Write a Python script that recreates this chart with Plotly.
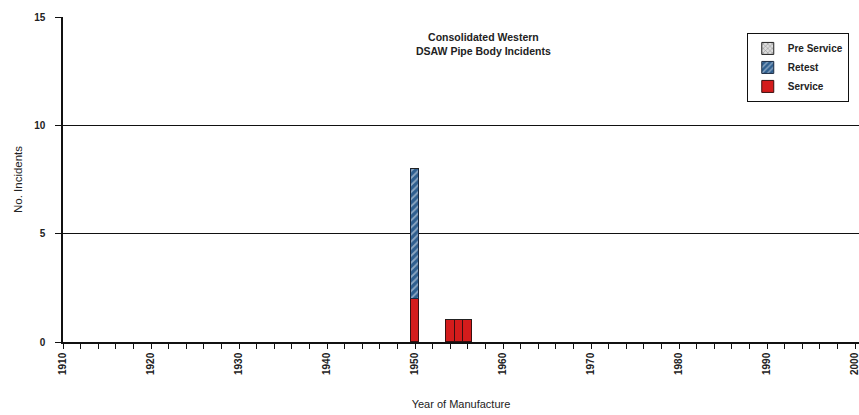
import plotly.graph_objects as go

years = [1950, 1954, 1955, 1956]
service = [2, 1, 1, 1]
retest = [6, 0, 0, 0]
pre_service = [0, 0, 0, 0]

x_ticks = list(range(1910, 2001, 10))
y_ticks = [0, 5, 10, 15]

FONT = "Liberation Sans"
TXT = "#222222"

fig = go.Figure()
fig.add_trace(go.Bar(
    x=years, y=service, name="Service", width=1,
    marker=dict(color="#d41c1c", line=dict(color="#3a1010", width=1)),
))
fig.add_trace(go.Bar(
    x=years, y=retest, name="Retest", width=1,
    marker=dict(color="#2f5f8f", line=dict(color="#1a2a40", width=1),
                pattern=dict(shape="/", fgcolor="#e8eef5", bgcolor="#2f5f8f", size=5, solidity=0.35)),
))
fig.add_trace(go.Bar(
    x=years, y=pre_service, name="Pre Service", width=1,
    marker=dict(color="#ffffff", line=dict(color="#222222", width=1),
                pattern=dict(shape="x", fgcolor="#333333", bgcolor="#dddddd", size=4, solidity=0.3)),
))

fig.update_layout(
    width=859, height=415,
    barmode="stack", bargap=0,
    paper_bgcolor="white", plot_bgcolor="white",
    margin=dict(l=63, r=0, t=17, b=73),
    font=dict(family=FONT, size=10, color=TXT),
    showlegend=True,
    legend=dict(
        x=0.859, y=0.951, xanchor="left", yanchor="top",
        bordercolor="#111111", borderwidth=1, bgcolor="white",
        font=dict(family=FONT, size=10, color=TXT, weight="bold"),
        traceorder="reversed", itemwidth=30, tracegroupgap=0,
    ),
    xaxis=dict(
        range=[1910, 2000.45],
        tickmode="array", tickvals=x_ticks, ticktext=[str(v) for v in x_ticks],
        tickangle=-90, ticklabeloverflow="allow",
        ticks="outside", ticklen=5, tickcolor="#111111", tickwidth=1,
        minor=dict(dtick=2, tick0=1910, ticks="outside", ticklen=5, tickcolor="#111111", tickwidth=1, showgrid=False),
        showline=True, linecolor="#111111", linewidth=1.5,
        showgrid=False, zeroline=False,
        tickfont=dict(family=FONT, size=10, color=TXT, weight="bold"),
        title=dict(text="Year of Manufacture", font=dict(family=FONT, size=11, color=TXT), standoff=26),
    ),
    yaxis=dict(
        range=[0, 15],
        tickmode="array", tickvals=y_ticks,
        ticks="outside", ticklen=6, tickcolor="#111111", tickwidth=1,
        ticklabelstandoff=8,
        showline=True, linecolor="#111111", linewidth=1.5,
        showgrid=True, gridcolor="#111111", gridwidth=1,
        zeroline=False,
        tickfont=dict(family=FONT, size=10, color=TXT, weight="bold"),
        title=dict(text="No. Incidents", font=dict(family=FONT, size=11.5, color=TXT), standoff=9),
    ),
    annotations=[dict(
        text="Consolidated Western<br>DSAW Pipe Body Incidents",
        x=0.528, y=0.917, xref="paper", yref="paper", xanchor="center", yanchor="middle",
        showarrow=False, font=dict(family=FONT, size=10.5, color=TXT, weight="bold"),
    )],
)

fig.write_html(
    "out.html",
    config={"displayModeBar": False},
    post_script="document.body.style.margin='0';document.body.style.overflow='hidden';",
)
